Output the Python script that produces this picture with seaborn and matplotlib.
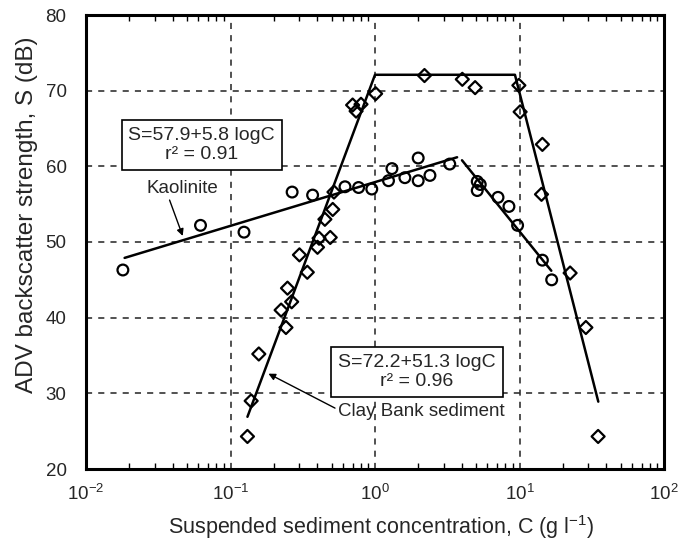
import numpy as np
import pandas as pd
import matplotlib
matplotlib.use("Agg")
import matplotlib.pyplot as plt
import seaborn as sns

# ---- data ----
kaol_C = [0.018, 0.062, 0.124, 0.267, 0.37, 0.62, 0.77, 0.95, 1.24, 1.31, 1.61,
          1.99, 1.99, 2.40, 3.29, 5.1, 5.1, 5.35, 7.1, 8.45, 9.7, 14.4, 16.7]
kaol_S = [46.3, 52.2, 51.3, 56.6, 56.2, 57.3, 57.2, 57.0, 58.1, 59.7, 58.5,
          61.1, 58.1, 58.8, 60.3, 58.0, 56.8, 57.6, 55.9, 54.7, 52.2, 47.6, 45.0]

clay_C = [0.131, 0.139, 0.157, 0.224, 0.242, 0.248, 0.265, 0.30, 0.34, 0.40,
          0.41, 0.45, 0.49, 0.51, 0.52, 0.70, 0.74, 0.80, 1.01, 2.20, 4.02,
          4.93, 9.9, 10.1, 14.4, 14.2, 22.4, 28.8, 35.0]
clay_S = [24.3, 29.0, 35.2, 41.0, 38.7, 43.9, 42.1, 48.3, 46.0, 49.3,
          50.5, 53.0, 50.6, 54.3, 56.6, 68.1, 67.3, 68.2, 69.6, 72.0, 71.5,
          70.4, 70.7, 67.2, 62.9, 56.3, 45.9, 38.7, 24.3]

# fitted lines (vertices)
kaol_fit_C = [0.0185, 3.7]
kaol_fit_S = [47.9, 61.2]
kaol_drop_C = [4.0, 16.6]
kaol_drop_S = [60.8, 46.2]
clay_fit_C = [0.131, 1.0, 9.3, 35.1]
clay_fit_S = [26.9, 72.1, 72.1, 28.9]

x_ticks = [0.01, 0.1, 1, 10, 100]
y_ticks = [20, 30, 40, 50, 60, 70, 80]

# ---- style ----
sns.set_theme(style="white")
plt.rcParams["font.family"] = ["Liberation Sans", "DejaVu Sans"]
plt.rcParams["mathtext.fontset"] = "custom"
plt.rcParams["mathtext.rm"] = "Liberation Sans"
plt.rcParams["mathtext.it"] = "Liberation Sans:italic"
plt.rcParams["mathtext.bf"] = "Liberation Sans:bold"

fig = plt.figure(figsize=(6.88, 5.42), dpi=100)
ax = fig.add_axes([86 / 688, 1 - 469 / 542, (664 - 86) / 688, (469 - 15) / 542])

line_kw = dict(color="black", linewidth=1.8, estimator=None, sort=False, legend=False)
sns.lineplot(x=kaol_fit_C, y=kaol_fit_S, ax=ax, **line_kw)
sns.lineplot(x=kaol_drop_C, y=kaol_drop_S, ax=ax, **line_kw)
sns.lineplot(x=clay_fit_C, y=clay_fit_S, ax=ax, **line_kw)

sns.scatterplot(x=kaol_C, y=kaol_S, ax=ax, marker="o", s=60,
                facecolor="none", edgecolor="black", linewidth=1.6, zorder=3)
sns.scatterplot(x=clay_C, y=clay_S, ax=ax, marker="D", s=44,
                facecolor="none", edgecolor="black", linewidth=1.6, zorder=3)

ax.set_xscale("log")
ax.set_xlim(0.01, 100)
ax.set_ylim(20, 80)
ax.set_xticks(x_ticks)
ax.set_yticks(y_ticks)

ax.grid(True, which="major", linestyle=(0, (4, 4)), color="#222222", linewidth=1.1)
ax.grid(False, which="minor")
for sp in ax.spines.values():
    sp.set_linewidth(2.2)
    sp.set_color("black")
ax.tick_params(axis="x", which="major", direction="in", length=0, pad=11,
               labelsize=13.5, top=False, bottom=True)
ax.tick_params(axis="x", which="minor", direction="in", length=4, width=1,
               top=True, bottom=True, color="black")
ax.tick_params(axis="y", which="both", length=0, pad=14, labelsize=13.5)

ax.set_xlabel("Suspended sediment concentration, C (g l$^{-1}$)", fontsize=15.5)
ax.xaxis.set_label_coords(0.51, -0.097)
ax.set_ylabel("ADV backscatter strength, S (dB)", fontsize=17.5)
ax.yaxis.set_label_coords(-0.083, 0.56)

box = dict(boxstyle="square,pad=0.35", facecolor="white", edgecolor="black", linewidth=1.2)
ax.text(0.0633, 62.8, "S=57.9+5.8 logC\nr\u00b2 = 0.91", ha="center", va="center",
        fontsize=14, bbox=box, linespacing=1.2, zorder=5)
ax.text(1.95, 32.8, "S=72.2+51.3 logC\nr\u00b2 = 0.96", ha="center", va="center",
        fontsize=14, bbox=box, linespacing=1.2, zorder=5)

arrow = dict(arrowstyle="-|>", color="black", lw=1.0, mutation_scale=10,
             shrinkA=0, shrinkB=0)
ax.annotate("Kaolinite", xy=(0.0467, 50.8), xytext=(0.0467, 57.1),
            ha="center", va="center", fontsize=13.5,
            arrowprops=dict(arrow, relpos=(0.3, 0.0)))
ax.annotate("Clay Bank sediment", xy=(0.183, 32.6), xytext=(0.557, 27.6),
            ha="left", va="center", fontsize=13.5,
            arrowprops=dict(arrow, relpos=(0.0, 0.6)))

fig.savefig("out.png", dpi=100)
